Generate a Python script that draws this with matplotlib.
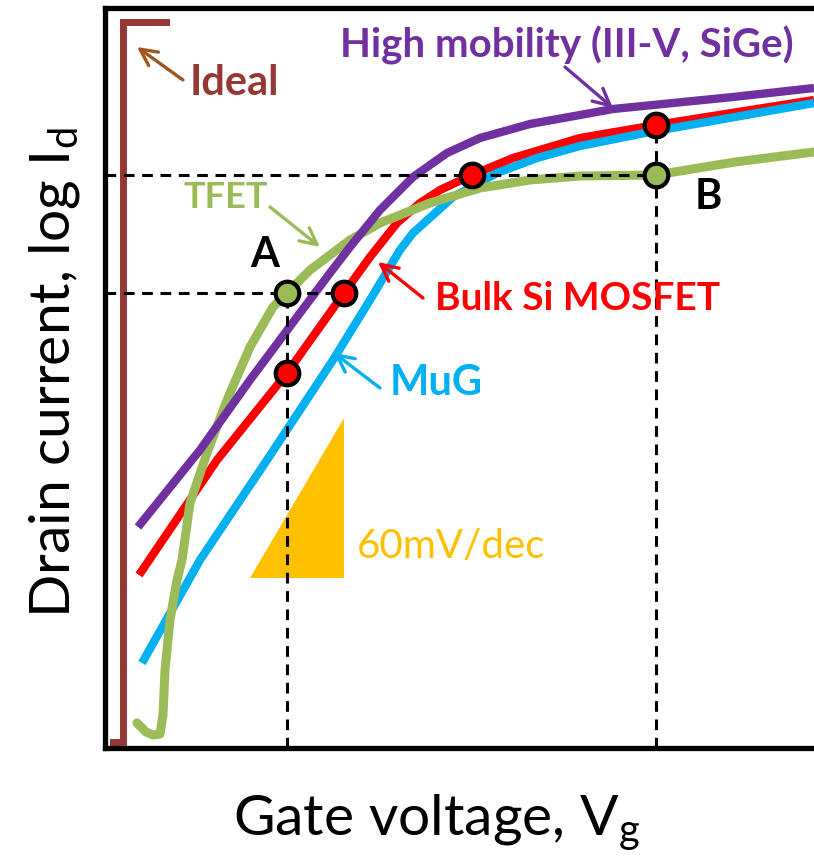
import matplotlib
matplotlib.use('Agg')
import matplotlib.pyplot as plt
from matplotlib.patches import Polygon

plt.rcParams['font.family'] = ['Lato', 'DejaVu Sans']
plt.rcParams['mathtext.fontset'] = 'custom'
plt.rcParams['mathtext.rm'] = 'Lato'
plt.rcParams['mathtext.it'] = 'Lato'

# schematic Id-Vg curves (arbitrary units)
ideal_vg = [8, 18, 18, 61]
ideal_id = [6, 6, 726, 726]

himob_vg = [33, 95, 145, 195, 225, 245, 275, 308, 342, 375, 425, 475, 508, 628, 709]
himob_id = [221, 298, 368, 435, 475, 501, 538, 571, 595, 610, 624, 633, 639, 651, 660]

bulk_vg = [34, 112, 182, 239, 265, 292, 315, 335, 367, 408, 475, 551, 709]
bulk_id = [173, 288, 375, 455, 491, 525, 545, 558, 573, 590, 610, 623, 648]

mug_vg = [37, 95, 162, 228, 265, 295, 308, 348, 392, 432, 475, 545, 709]
mug_id = [85, 188, 288, 388, 448, 498, 515, 551, 575, 590, 602, 616, 645]

tfet_vg = [32, 41, 48, 55, 58, 60, 65, 72, 77, 85, 102, 122, 145, 168, 182,
           205, 245, 275, 325, 375, 425, 475, 551, 630, 709]
tfet_id = [25, 16, 13, 14, 33, 78, 128, 168, 188, 245, 295, 348, 401, 441, 455,
           478, 508, 525, 545, 560, 568, 572, 573, 586, 596]

# operating points A and B
pt_a_vg = 182
pt_a_id = 455
pt_a_bulk = 375
pt_a_bulk_vg = 239
pt_b_vg = 551
pt_b_id = 573
pt_b_bulk = 623
pt_b_bulk_vg = 367

# 60 mV/dec slope triangle
tri_vg = [145, 239, 239]
tri_id = [170, 170, 330]

fig = plt.figure(figsize=(8.14, 8.59), dpi=100)
ax = fig.add_axes([105 / 814, 111 / 859, 709 / 814, 740 / 859])
ax.set_xlim(0, 709)
ax.set_ylim(0, 740)
ax.set_xticks([])
ax.set_yticks([])
for s in ['left', 'top', 'bottom']:
    ax.spines[s].set_linewidth(3.8)
ax.spines['right'].set_visible(False)

ax.add_patch(Polygon(list(zip(tri_vg, tri_id)), closed=True, color='#FFC000', lw=0, zorder=1))

curve = dict(solid_capstyle='butt', solid_joinstyle='round')
ax.plot(ideal_vg, ideal_id, color='#953735', lw=5, solid_joinstyle='miter', zorder=2)
ax.plot(bulk_vg, bulk_id, color='#FF0000', lw=6, zorder=2, **curve)
ax.plot(mug_vg, mug_id, color='#00B0F0', lw=6, zorder=3, **curve)
ax.plot(tfet_vg, tfet_id, color='#9BBB59', lw=6.5, zorder=4,
        solid_capstyle='round', solid_joinstyle='round')
ax.plot(himob_vg, himob_id, color='#7030A0', lw=6, zorder=5, **curve)

dash = dict(color='black', lw=2.2, ls=(0, (3.5, 2.5)), zorder=6)
ax.plot([0, pt_a_bulk_vg], [pt_a_id, pt_a_id], **dash)
ax.plot([pt_a_vg, pt_a_vg], [0, pt_a_id], **dash)
ax.plot([0, pt_b_vg], [pt_b_id, pt_b_id], **dash)
ax.plot([pt_b_vg, pt_b_vg], [0, pt_b_bulk], **dash)

dot = dict(marker='o', ms=17, mec='black', mew=3, ls='none', zorder=7)
ax.plot([pt_a_vg, pt_b_vg], [pt_a_id, pt_b_id], mfc='#9BBB59', **dot)
ax.plot([pt_a_vg, pt_a_bulk_vg, pt_b_bulk_vg, pt_b_vg],
        [pt_a_bulk, pt_a_id, pt_b_id, pt_b_bulk], mfc='#FF0000', **dot)

def label(txt, x, y, color, size, tail, tip, arrow_color=None):
    ax.text(x, y, txt, color=color, fontsize=size, fontweight='bold',
            ha='left', va='center', zorder=8)
    ax.annotate('', xy=tip, xytext=tail,
                arrowprops=dict(arrowstyle='->', color=arrow_color or color,
                                lw=2.4, mutation_scale=30, shrinkA=0, shrinkB=0),
                zorder=8)

label('Ideal', 85, 665, '#953735', 30, (78, 668), (32, 701), '#A0561E')
label('High mobility (III-V, SiGe)', 235, 703, '#7030A0', 29, (460, 681), (508, 640))
label('TFET', 78, 551, '#9BBB59', 26, (165, 541), (215, 501))
label('Bulk Si MOSFET', 330, 450, '#FF0000', 28, (318, 450), (273, 486))
label('MuG', 285, 365, '#00B0F0', 30, (275, 360), (229, 395))

ax.text(252, 201, '60mV/dec', color='#FFC000', fontsize=29, ha='left', va='center')
ax.text(160, 493, 'A', color='black', fontsize=30, fontweight='bold', ha='center', va='center')
ax.text(603, 551, 'B', color='black', fontsize=30, fontweight='bold', ha='center', va='center')

fig.text(437 / 814, 1 - 823 / 859, r'Gate voltage, V$_\mathrm{g}$', fontsize=41,
         ha='center', va='center')
fig.text(55 / 814, 1 - 373 / 859, r'Drain current, log I$_\mathrm{d}$', fontsize=41,
         ha='center', va='center', rotation=90)

fig.savefig('out.png', dpi=100)
